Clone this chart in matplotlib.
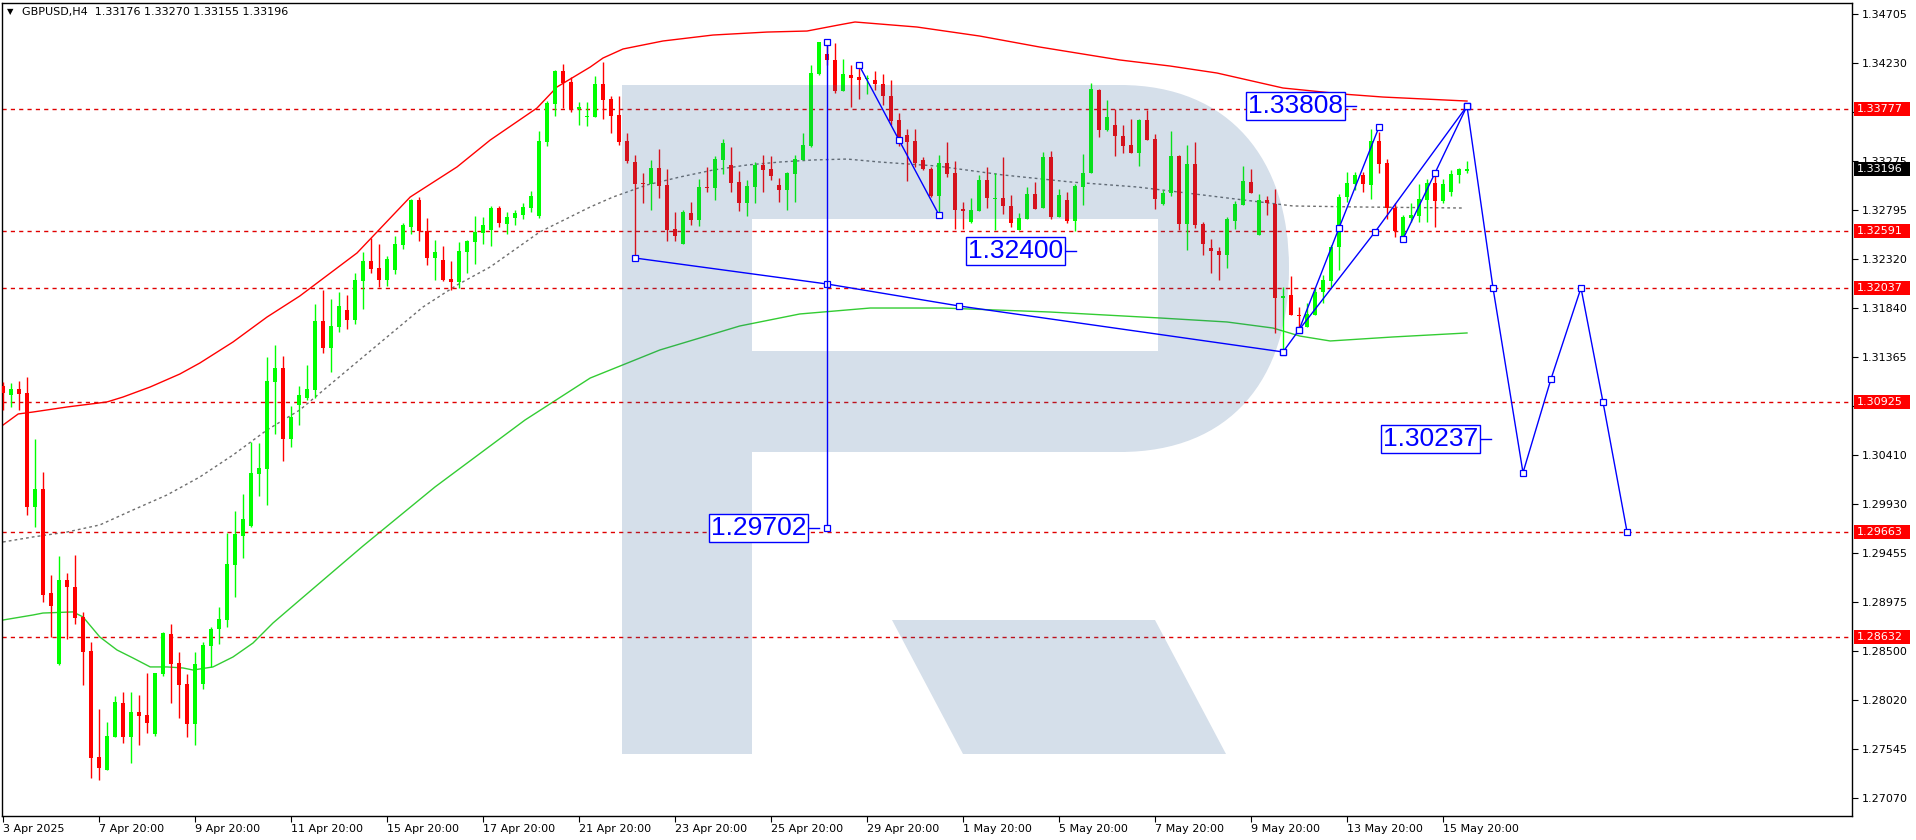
import numpy as np
import matplotlib
matplotlib.use("Agg")
import matplotlib.pyplot as plt
from matplotlib.path import Path
from matplotlib.patches import PathPatch, Rectangle

# ---------------- data ----------------
opens = [1.31082, 1.30993, 1.31052, 1.31013, 1.29903, 1.30078, 1.29065, 1.28374, 1.29192, 1.29124,
 1.28832, 1.28500, 1.27468, 1.27341, 1.27663, 1.27994, 1.27663, 1.27906, 1.27877, 1.27692,
 1.28276, 1.28666, 1.28384, 1.28179, 1.27789, 1.28179, 1.28549, 1.28715, 1.28802, 1.29338,
 1.29621, 1.29718, 1.30224, 1.30273, 1.31121, 1.31257, 1.30565, 1.30896, 1.30964, 1.31042,
 1.31714, 1.31451, 1.31656, 1.31822, 1.31724, 1.32104, 1.32299, 1.32231, 1.32114, 1.32211,
 1.32454, 1.32630, 1.32893, 1.32591, 1.32328, 1.32309, 1.32124, 1.32095, 1.32387, 1.32484,
 1.32572, 1.32601, 1.32815, 1.32659, 1.32718, 1.32747, 1.32815, 1.32737, 1.33458, 1.33828,
 1.34149, 1.34042, 1.33779, 1.33701, 1.33701, 1.34023, 1.33877, 1.33721, 1.33468, 1.33263,
 1.33059, 1.33049, 1.33205, 1.33040, 1.32611, 1.32464, 1.32766, 1.32698, 1.33020, 1.33010,
 1.33283, 1.33234, 1.33069, 1.32864, 1.33020, 1.33234, 1.33195, 1.33040, 1.32990, 1.33146,
 1.33283, 1.33419, 1.34120, 1.34315, 1.34257, 1.33955, 1.34110, 1.34091, 1.34072, 1.34062,
 1.34023, 1.33906, 1.33672, 1.33526, 1.33468, 1.33283, 1.33195, 1.32932, 1.33254, 1.33156,
 1.32805, 1.32679, 1.32786, 1.33088, 1.32903, 1.32913, 1.32835, 1.32601, 1.32708, 1.32952,
 1.32815, 1.33312, 1.32727, 1.32893, 1.32688, 1.33020, 1.33156, 1.33964, 1.33575, 1.33624,
 1.33516, 1.33429, 1.33351, 1.33672, 1.33487, 1.32854, 1.32961, 1.33322, 1.32659, 1.33244,
 1.32659, 1.32425, 1.32396, 1.32357, 1.32688, 1.32845, 1.33069, 1.32552, 1.32893, 1.32854,
 1.31939, 1.31968, 1.31773, 1.31656, 1.31773, 1.31997, 1.32104, 1.32435, 1.32922, 1.33049,
 1.33137, 1.33040, 1.33468, 1.33254, 1.32815, 1.32533, 1.32718, 1.32737, 1.32893, 1.33059,
 1.32883, 1.32971, 1.33137, 1.33176]

highs = [1.31121, 1.31111, 1.31130, 1.31169, 1.30565, 1.30244, 1.29240, 1.29426, 1.29260, 1.29436,
 1.28881, 1.28588, 1.27935, 1.27809, 1.28062, 1.28101, 1.28101, 1.28071, 1.28286, 1.28286,
 1.28686, 1.28763, 1.28491, 1.28276, 1.28491, 1.28588, 1.28734, 1.28929, 1.29650, 1.29864,
 1.30029, 1.30536, 1.30526, 1.31364, 1.31481, 1.31374, 1.30887, 1.31082, 1.31286, 1.31880,
 1.32016, 1.31929, 1.31997, 1.31968, 1.32182, 1.32387, 1.32523, 1.32464, 1.32347, 1.32542,
 1.32669, 1.32903, 1.32922, 1.32718, 1.32503, 1.32445, 1.32299, 1.32484, 1.32503, 1.32737,
 1.32727, 1.32835, 1.32835, 1.32776, 1.32796, 1.32864, 1.32981, 1.33565, 1.33857, 1.34159,
 1.34218, 1.34091, 1.33848, 1.33848, 1.34101, 1.34237, 1.33906, 1.33906, 1.33545, 1.33331,
 1.33156, 1.33283, 1.33390, 1.33195, 1.32776, 1.32796, 1.32874, 1.33098, 1.33215, 1.33322,
 1.33487, 1.33409, 1.33176, 1.33088, 1.33263, 1.33331, 1.33322, 1.33108, 1.33166, 1.33331,
 1.33545, 1.34208, 1.34432, 1.34432, 1.34422, 1.34266, 1.34208, 1.34179, 1.34110, 1.34149,
 1.34120, 1.34062, 1.33740, 1.33584, 1.33584, 1.33312, 1.33215, 1.33331, 1.33458, 1.33273,
 1.32874, 1.32913, 1.33137, 1.33215, 1.33156, 1.33312, 1.32942, 1.32766, 1.33020, 1.33069,
 1.33361, 1.33370, 1.33001, 1.32971, 1.33049, 1.33341, 1.34033, 1.33974, 1.33867, 1.33779,
 1.33624, 1.33682, 1.33682, 1.33770, 1.33536, 1.32990, 1.33565, 1.33331, 1.33429, 1.33458,
 1.32679, 1.32513, 1.32435, 1.32727, 1.32883, 1.33224, 1.33195, 1.32952, 1.32932, 1.33001,
 1.32046, 1.32153, 1.31851, 1.31890, 1.32036, 1.32163, 1.32454, 1.32952, 1.33166, 1.33166,
 1.33166, 1.33584, 1.33555, 1.33292, 1.32864, 1.32747, 1.32864, 1.33049, 1.33098, 1.33185,
 1.33098, 1.33185, 1.33205, 1.33270]

lows = [1.30848, 1.30877, 1.30848, 1.29825, 1.29708, 1.28978, 1.28637, 1.28364, 1.28617, 1.28763,
 1.28169, 1.27263, 1.27244, 1.27341, 1.27663, 1.27604, 1.27410, 1.27585, 1.27702, 1.27673,
 1.28257, 1.27994, 1.27848, 1.27663, 1.27585, 1.28130, 1.28345, 1.28569, 1.28734, 1.29026,
 1.29406, 1.29708, 1.30010, 1.29922, 1.30614, 1.30351, 1.30487, 1.30701, 1.30945, 1.30964,
 1.31403, 1.31218, 1.31608, 1.31637, 1.31685, 1.31832, 1.32182, 1.32046, 1.32056, 1.32172,
 1.32415, 1.32562, 1.32494, 1.32260, 1.32114, 1.32104, 1.32016, 1.32036, 1.32182, 1.32270,
 1.32464, 1.32445, 1.32630, 1.32562, 1.32649, 1.32708, 1.32776, 1.32718, 1.33419, 1.33711,
 1.33789, 1.33750, 1.33624, 1.33614, 1.33701, 1.33682, 1.33545, 1.33429, 1.33254, 1.32328,
 1.32864, 1.32796, 1.32913, 1.32494, 1.32494, 1.32464, 1.32649, 1.32640, 1.32971, 1.32893,
 1.33146, 1.32971, 1.32786, 1.32737, 1.32864, 1.32971, 1.33088, 1.32874, 1.32796, 1.32874,
 1.33283, 1.33409, 1.34110, 1.34208, 1.33935, 1.33955, 1.33799, 1.33877, 1.33925, 1.33964,
 1.33818, 1.33624, 1.33419, 1.33079, 1.33215, 1.33185, 1.32922, 1.32747, 1.33117, 1.32611,
 1.32611, 1.32669, 1.32786, 1.32815, 1.32601, 1.32757, 1.32630, 1.32601, 1.32708, 1.32805,
 1.32815, 1.32708, 1.32727, 1.32669, 1.32591, 1.32845, 1.33156, 1.33506, 1.33565, 1.33322,
 1.33351, 1.33351, 1.33224, 1.33477, 1.32805, 1.32845, 1.32932, 1.32601, 1.32406, 1.32620,
 1.32357, 1.32182, 1.32114, 1.32231, 1.32611, 1.32845, 1.32961, 1.32552, 1.32747, 1.31598,
 1.31413, 1.31773, 1.31656, 1.31656, 1.31773, 1.31890, 1.32046, 1.32211, 1.32874, 1.32990,
 1.32971, 1.32903, 1.33156, 1.32708, 1.32533, 1.32523, 1.32679, 1.32679, 1.32679, 1.32630,
 1.32864, 1.32932, 1.33059, 1.33155]

closes = [1.31013, 1.31052, 1.31003, 1.29903, 1.30078, 1.29045, 1.28939, 1.29192, 1.29124, 1.28822,
 1.28491, 1.27458, 1.27360, 1.27673, 1.28004, 1.27663, 1.27906, 1.27867, 1.27799, 1.28286,
 1.28676, 1.28374, 1.28169, 1.27789, 1.28374, 1.28559, 1.28715, 1.28812, 1.29348, 1.29640,
 1.29786, 1.30234, 1.30283, 1.31130, 1.31257, 1.30565, 1.30780, 1.30993, 1.31052, 1.31714,
 1.31451, 1.31666, 1.31861, 1.31724, 1.32114, 1.32299, 1.32221, 1.32114, 1.32318, 1.32464,
 1.32649, 1.32893, 1.32591, 1.32328, 1.32387, 1.32114, 1.32095, 1.32396, 1.32494, 1.32582,
 1.32649, 1.32815, 1.32669, 1.32727, 1.32766, 1.32825, 1.32932, 1.33468, 1.33838, 1.34149,
 1.34033, 1.33779, 1.33799, 1.33711, 1.34023, 1.33867, 1.33711, 1.33458, 1.33273, 1.33049,
 1.33049, 1.33205, 1.33030, 1.32601, 1.32542, 1.32776, 1.32698, 1.33020, 1.33010, 1.33292,
 1.33448, 1.33059, 1.32864, 1.33030, 1.33234, 1.33185, 1.33127, 1.32990, 1.33156, 1.33292,
 1.33429, 1.34130, 1.34432, 1.34257, 1.33955, 1.34120, 1.34081, 1.34062, 1.34081, 1.34023,
 1.33906, 1.33662, 1.33506, 1.33458, 1.33254, 1.33195, 1.32932, 1.33254, 1.33146, 1.32796,
 1.32786, 1.32796, 1.33088, 1.32913, 1.32913, 1.32835, 1.32669, 1.32718, 1.32952, 1.32805,
 1.33312, 1.32727, 1.32942, 1.32688, 1.33030, 1.33156, 1.33974, 1.33575, 1.33701, 1.33516,
 1.33419, 1.33351, 1.33672, 1.33477, 1.32903, 1.32961, 1.33322, 1.32659, 1.33244, 1.32649,
 1.32464, 1.32396, 1.32357, 1.32708, 1.32854, 1.33079, 1.32961, 1.32893, 1.32864, 1.31939,
 1.31958, 1.31773, 1.31763, 1.31783, 1.31997, 1.32114, 1.32435, 1.32922, 1.33059, 1.33137,
 1.33049, 1.33468, 1.33244, 1.32815, 1.32591, 1.32727, 1.32747, 1.32903, 1.33059, 1.32883,
 1.33049, 1.33146, 1.33195, 1.33196]

# envelope / band lines (bar index, price)
upper_x = [0, 1.9, 3.75, 8, 13, 15, 18.4, 22.1, 24.6, 28.75, 33, 37.1, 44.25, 50.9, 56.75, 60.9,
           66.75, 69.25, 73.4, 75, 77.5, 82.5, 88.75, 95.5, 100.5, 104.4, 106.5, 114.25, 122.1,
           129.6, 139.6, 145.9, 151.75, 160, 167.5, 172.5, 183]
upper_y = [1.30701, 1.30809, 1.30828, 1.30877, 1.30926, 1.30974, 1.31072, 1.31198, 1.31305, 1.31510,
           1.31753, 1.31958, 1.32377, 1.32922, 1.33215, 1.33477, 1.33789, 1.33994, 1.34188, 1.34276,
           1.34364, 1.34442, 1.34500, 1.34529, 1.34539, 1.34597, 1.34627, 1.34578, 1.34490, 1.34383,
           1.34257, 1.34198, 1.34130, 1.33984, 1.33925, 1.33896, 1.33857]
mid_x = [0, 3.75, 8, 12.1, 16.25, 20.5, 24.6, 28.75, 33, 37.1, 44.25, 52.5, 56.75, 60.9, 67.1, 73.4,
         76.25, 80.5, 84.6, 88.75, 93, 97.1, 101.25, 105.5, 109.6, 116.75, 125, 133.4, 141.75, 145.9,
         153, 161.25, 169.6, 182.5]
mid_y = [1.29562, 1.29611, 1.29659, 1.29728, 1.29874, 1.30020, 1.30195, 1.30409, 1.30653, 1.30848,
         1.31315, 1.31851, 1.32065, 1.32241, 1.32582, 1.32825, 1.32922, 1.33040, 1.33117, 1.33185,
         1.33234, 1.33263, 1.33283, 1.33292, 1.33263, 1.33224, 1.33137, 1.33069, 1.33020, 1.32981,
         1.32913, 1.32835, 1.32825, 1.32815]
lower_x = [0, 3.75, 5, 8.75, 10, 12.1, 14.25, 16.25, 18.4, 20.5, 22.5, 23.75, 26.25, 28.75, 31.25,
           33.75, 37.1, 45, 54, 65.25, 73.4, 82.1, 92.1, 99.6, 108.4, 117.5, 130.9, 144.6, 153,
           158.75, 162.1, 165.9, 173.75, 183]
lower_y = [1.28802, 1.28851, 1.28870, 1.28881, 1.28832, 1.28637, 1.28510, 1.28432, 1.28345, 1.28345,
           1.28335, 1.28315, 1.28345, 1.28442, 1.28578, 1.28773, 1.28997, 1.29523, 1.30098, 1.30750,
           1.31159, 1.31432, 1.31666, 1.31783, 1.31841, 1.31841, 1.31802, 1.31744, 1.31705, 1.31646,
           1.31568, 1.31520, 1.31559, 1.31598]

# horizontal levels and current price
levels = [1.33777, 1.32591, 1.32037, 1.30925, 1.29663, 1.28632]
last_price = 1.33196

# price-axis ticks (labels hidden where a level tag covers them)
ytick_vals = [1.34705, 1.34230, 1.33755, 1.33275, 1.32795, 1.32320, 1.31840, 1.31365, 1.30885,
              1.30410, 1.29930, 1.29455, 1.28975, 1.28500, 1.28020, 1.27545, 1.27070]
ytick_hidden = [1.33755, 1.30885]

# time-axis labels (bar index)
xtick_pos = [0, 12, 24, 36, 48, 60, 72, 84, 96, 108, 120, 132, 144, 156, 168, 180]
xtick_lbl = ["3 Apr 2025", "7 Apr 20:00", "9 Apr 20:00", "11 Apr 20:00", "15 Apr 20:00",
             "17 Apr 20:00", "21 Apr 20:00", "23 Apr 20:00", "25 Apr 20:00", "29 Apr 20:00",
             "1 May 20:00", "5 May 20:00", "7 May 20:00", "9 May 20:00", "13 May 20:00",
             "15 May 20:00"]

# analyst drawings (bar index, price)
trend1_x = [79, 103, 119.5, 160]
trend1_y = [1.32328, 1.32075, 1.31861, 1.31413]
vert_x = [103, 103]
vert_y = [1.34432, 1.29702]
drop_x = [107, 112, 117]
drop_y = [1.34208, 1.33477, 1.32747]
rise1_x = [160, 162, 171.5, 183]
rise1_y = [1.31413, 1.31627, 1.32582, 1.33808]
rise2_x = [162, 167, 172]
rise2_y = [1.31627, 1.32620, 1.33604]
rise3_x = [175, 179, 183]
rise3_y = [1.32513, 1.33156, 1.33808]
fc_x = [183, 186.25, 190, 193.5, 197.25, 200, 203]
fc_y = [1.33808, 1.32037, 1.30237, 1.31150, 1.32037, 1.30925, 1.29663]

# price labels: text, right edge (bar idx), price
tags = [("1.33808", 167.5, 1.33808), ("1.32400", 132.5, 1.32400),
        ("1.29702", 100.4, 1.29702), ("1.30237", 184.4, 1.30566)]

# ---------------- figure ----------------
W, H = 1916, 840
fig = plt.figure(figsize=(W / 100, H / 100), dpi=100, facecolor="white")
PL, PR, PT, PB = 2, 1852, 3, 816
ax = fig.add_axes([PL / W, 1 - PB / H, (PR - PL) / W, (PB - PT) / H])
ax.set_xlim(-0.125, 231.125)
ax.set_ylim(1.26893, 1.34812)
ax.set_facecolor("white")

o = np.array(opens); h = np.array(highs); l = np.array(lows); c = np.array(closes)
idx = np.arange(len(o))
up = c >= o
cols = np.where(up, "#00ff00", "#ff0000")
ax.vlines(idx, l, h, colors=cols, linewidth=1.0, zorder=3)
body = np.maximum(np.abs(c - o), 0.00009)
ax.bar(idx, body, bottom=np.minimum(o, c), width=0.62, color=cols, linewidth=0, zorder=3)

# bands
ax.plot(upper_x, upper_y, color="#ff0000", lw=1.0, zorder=2)
ax.plot(mid_x, mid_y, color="#6e6e6e", lw=1.0, dashes=(2, 2.2), zorder=2)
ax.plot(lower_x, lower_y, color="#33cc33", lw=1.0, zorder=2)

# horizontal levels
for lv in levels:
    ax.axhline(lv, color="#e00000", lw=1.0, dashes=(3, 3), zorder=2)

# watermark "R" (axes-fraction, derived from pixel layout)
def af(px, py):
    return ((px - PL) / (PR - PL), (PB - py) / (PB - PT))

verts, codes = [], []
def mv(p): verts.append(af(*p)); codes.append(Path.MOVETO)
def ln(p): verts.append(af(*p)); codes.append(Path.LINETO)
def cv(p1, p2, p3):
    for p in (p1, p2, p3):
        verts.append(af(*p)); codes.append(Path.CURVE4)
def cl(): verts.append((0, 0)); codes.append(Path.CLOSEPOLY)

mv((622, 85)); ln((1120, 85))
cv((1230, 85), (1289, 160), (1289, 268))
cv((1289, 380), (1230, 452), (1120, 452))
ln((752, 452)); ln((752, 754)); ln((622, 754)); cl()
mv((752, 219)); ln((752, 351)); ln((1158, 351)); ln((1158, 219)); cl()
mv((892, 620)); ln((1155, 620)); ln((1226, 754)); ln((963, 754)); cl()
wm = PathPatch(Path(verts, codes), transform=ax.transAxes,
               facecolor=(45 / 255, 95 / 255, 150 / 255), alpha=0.2, edgecolor="none", zorder=4)
ax.add_patch(wm)

# drawings
mk = dict(marker="s", ms=4, mfc="white", mec="#0000ff", mew=0.9)
for xs, ys in [(trend1_x, trend1_y), (vert_x, vert_y), (drop_x, drop_y), (rise1_x, rise1_y),
               (rise2_x, rise2_y), (rise3_x, rise3_y), (fc_x, fc_y)]:
    ax.plot(xs, ys, color="#0000ff", lw=1.0, zorder=6, **mk)

for txt, xr, pr in tags:
    ax.text(xr, pr, txt, ha="right", va="center", color="#0000ff", fontsize=19,
            family="Liberation Sans", zorder=7,
            bbox=dict(boxstyle="square,pad=0.08", fc="white", ec="#0000ff", lw=1.0))
    ax.plot([xr + 0.4, xr + 1.6], [pr, pr], color="#0000ff", lw=1.0, zorder=7)

# axes styling
for s in ax.spines.values():
    s.set_color("black"); s.set_linewidth(1.0)
ax.yaxis.tick_right()
ax.set_yticks(ytick_vals)
ax.set_yticklabels(["" if v in ytick_hidden else f"{v:.5f}" for v in ytick_vals])
ax.tick_params(axis="y", direction="out", length=4, width=0.8, pad=3, labelsize=8, colors="black")
ax.set_xticks(xtick_pos)
ax.set_xticklabels(xtick_lbl)
for t in ax.get_xticklabels():
    t.set_ha("left")
ax.tick_params(axis="x", direction="out", length=4, width=0.8, pad=2, labelsize=8, colors="black")

# right-side price tags
fig.canvas.draw()
def price_tag(price, text, fc):
    y = ax.transData.transform((0, price))[1]
    fig.add_artist(Rectangle((1854, y - 7), 56, 14, transform=None, facecolor=fc,
                             edgecolor="none", zorder=10))
    fig.text(1857 / W, y / H, text, color="white", fontsize=8, va="center", ha="left", zorder=11)

for lv in levels:
    price_tag(lv, f"{lv:.5f}", "#ff0000")
price_tag(last_price, f"{last_price:.5f}", "#000000")

# header
fig.text(7 / W, 1 - 12 / H, "\u25bc", fontsize=6, va="center", ha="left", color="black")
fig.text(22 / W, 1 - 12 / H, "GBPUSD,H4  1.33176 1.33270 1.33155 1.33196", fontsize=8,
         va="center", ha="left", color="black")

fig.savefig("out.png", dpi=100, facecolor="white")
